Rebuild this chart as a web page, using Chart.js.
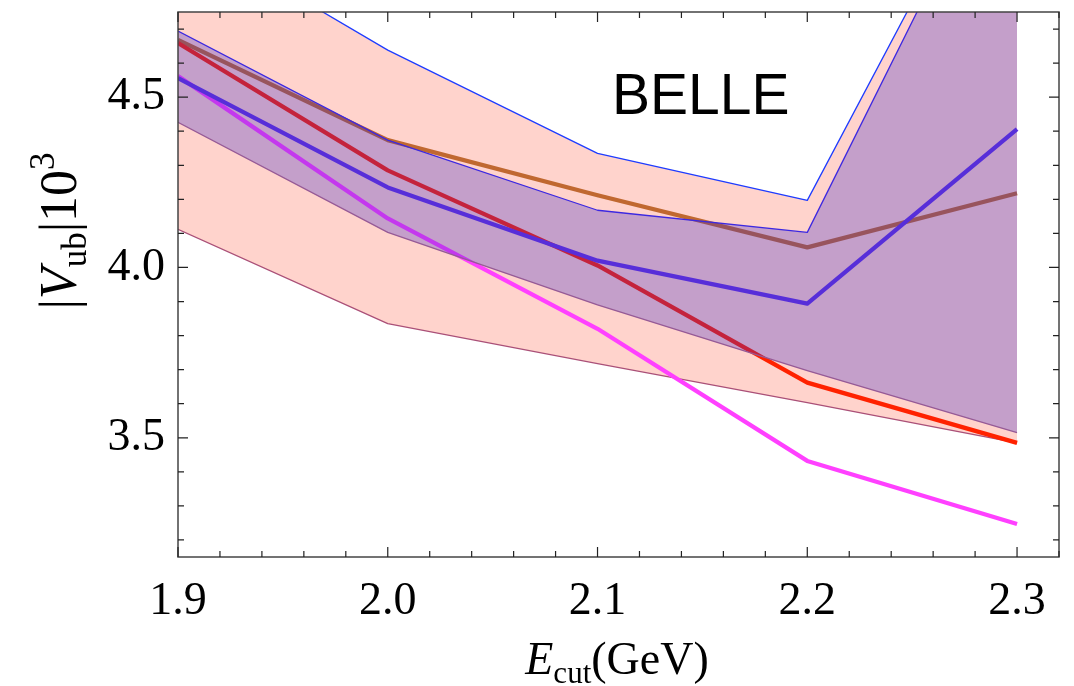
<!DOCTYPE html>
<html lang="en">
<head>
  <meta charset="UTF-8">
  <title>|Vub| vs Ecut - BELLE</title>
  <script src="https://cdn.jsdelivr.net/npm/chart.js"></script>
  <style>
    body { margin: 0; background: #fff; }
    #wrap { width: 1074px; height: 686px; }
  </style>
</head>
<body>
<div id="wrap">
  <canvas id="vubChart" width="1074" height="686"></canvas>
</div>

<script>
  // Energy cut values (GeV)
  const eCut = [1.9, 2.0, 2.1, 2.2, 2.3];

  // Bands: upper / lower edges, |Vub| x 10^3
  const pinkUpper = [5.00, 4.638, 4.335, 4.197, 5.36];
  const pinkLower = [4.112, 3.835, 3.718, 3.603, 3.485];
  const purpleUpper = [4.694, 4.374, 4.168, 4.103, 5.34];
  const purpleLower = [4.426, 4.103, 3.890, 3.697, 3.515];

  // Central curves
  const orangeLine = [4.668, 4.374, 4.212, 4.059, 4.218];
  const redLine = [4.659, 4.285, 4.006, 3.662, 3.485];
  const blueLine = [4.556, 4.235, 4.020, 3.894, 4.406];
  const magentaLine = [4.562, 4.144, 3.820, 3.432, 3.247];

  // Axis ticks
  const xTicks = [1.9, 2.0, 2.1, 2.2, 2.3];
  const yTicks = [3.5, 4.0, 4.5];

  const serif = '"Liberation Serif", "Times New Roman", serif';

  function pts(ys) {
    return eCut.map((x, i) => ({ x: x, y: ys[i] }));
  }

  // Frame with inward ticks on all four sides, plus the text labels
  const framePlugin = {
    id: 'frame',
    afterDraw(chart) {
      const ctx = chart.ctx;
      const a = chart.chartArea;
      const xs = chart.scales.x, ys = chart.scales.y;
      ctx.save();
      ctx.strokeStyle = '#444';
      ctx.lineWidth = 1.5;
      ctx.strokeRect(a.left, a.top, a.right - a.left, a.bottom - a.top);

      ctx.strokeStyle = '#222';
      ctx.lineWidth = 1.2;
      ctx.beginPath();
      // x ticks every 0.02, major every 0.1
      for (let i = 0; i <= 21; i++) {
        const v = 1.9 + i * 0.02;
        const px = xs.getPixelForValue(v);
        if (px > a.right) break;
        const len = i % 5 === 0 ? 10 : 6;
        ctx.moveTo(px, a.bottom); ctx.lineTo(px, a.bottom - len);
        ctx.moveTo(px, a.top); ctx.lineTo(px, a.top + len);
      }
      // y ticks every 0.1, major every 0.5
      for (let i = 32; i <= 47; i++) {
        const v = i / 10;
        const py = ys.getPixelForValue(v);
        const len = i % 5 === 0 ? 10 : 6;
        ctx.moveTo(a.left, py); ctx.lineTo(a.left + len, py);
        ctx.moveTo(a.right, py); ctx.lineTo(a.right - len, py);
      }
      ctx.stroke();

      // BELLE label
      ctx.fillStyle = '#000';
      ctx.font = '57px "Liberation Sans", Arial, sans-serif';
      ctx.textAlign = 'left';
      ctx.textBaseline = 'alphabetic';
      ctx.fillText('BELLE', 612, 114);

      // x axis title: E_cut(GeV)
      const big = 46, small = 31;
      ctx.font = 'italic ' + big + 'px ' + serif;
      const wE = ctx.measureText('E').width;
      ctx.font = small + 'px ' + serif;
      const wSub = ctx.measureText('cut').width;
      ctx.font = big + 'px ' + serif;
      const wRest = ctx.measureText('(GeV)').width;
      let x0 = 617 - (wE + wSub + wRest) / 2;
      const yb = 674;
      ctx.font = 'italic ' + big + 'px ' + serif;
      ctx.fillText('E', x0, yb); x0 += wE;
      ctx.font = small + 'px ' + serif;
      ctx.fillText('cut', x0, yb + 9); x0 += wSub;
      ctx.font = big + 'px ' + serif;
      ctx.fillText('(GeV)', x0, yb);

      // y axis title: |V_ub| 10^3, rotated
      const yb2 = 52, ys2 = 35;
      const parts = [
        { t: '|', f: yb2 + 'px ' + serif, dy: 0 },
        { t: 'V', f: 'italic ' + yb2 + 'px ' + serif, dy: 0 },
        { t: 'ub', f: ys2 + 'px ' + serif, dy: 10 },
        { t: '|10', f: yb2 + 'px ' + serif, dy: 0 },
        { t: '3', f: ys2 + 'px ' + serif, dy: -22 }
      ];
      let total = 0;
      parts.forEach(p => { ctx.font = p.f; p.w = ctx.measureText(p.t).width; total += p.w; });
      ctx.translate(76, 231);
      ctx.rotate(-Math.PI / 2);
      let px = -total / 2;
      parts.forEach(p => { ctx.font = p.f; ctx.fillText(p.t, px, p.dy); px += p.w; });
      ctx.restore();
    }
  };

  const thin = 1.3, thick = 4.3;

  new Chart(document.getElementById('vubChart'), {
    type: 'line',
    data: {
      datasets: [
        { data: pts(purpleLower), borderColor: 'rgb(150,90,150)', borderWidth: thin, fill: false, order: 0 },
        { data: pts(purpleUpper), borderColor: 'rgb(60,40,225)', borderWidth: thin,
          fill: '-1', backgroundColor: 'rgba(58,41,200,0.3)', order: 1 },
        { data: pts(blueLine), borderColor: 'rgb(100,50,225)', borderWidth: thick, fill: false, order: 2 },
        { data: pts(redLine), borderColor: 'rgb(255,34,0)', borderWidth: thick, fill: false, order: 3 },
        { data: pts(magentaLine), borderColor: 'rgb(255,64,255)', borderWidth: thick, fill: false, order: 4 },
        { data: pts(orangeLine), borderColor: 'rgb(192,104,48)', borderWidth: thick, fill: false, order: 5 },
        { data: pts(pinkLower), borderColor: 'rgb(170,80,120)', borderWidth: thin, fill: false, order: 6 },
        { data: pts(pinkUpper), borderColor: 'rgb(30,60,255)', borderWidth: thin,
          fill: '-1', backgroundColor: 'rgb(255,211,204)', order: 7 }
      ]
    },
    options: {
      responsive: false,
      animation: false,
      devicePixelRatio: 1,
      layout: { padding: { top: 12, right: 15, left: 0, bottom: 0 } },
      elements: {
        point: { radius: 0 },
        line: { tension: 0, borderJoinStyle: 'round' }
      },
      plugins: {
        legend: { display: false },
        tooltip: { enabled: false }
      },
      scales: {
        x: {
          type: 'linear',
          min: 1.9,
          max: 2.32,
          grid: { display: false, drawTicks: false },
          border: { display: false },
          afterBuildTicks: s => { s.ticks = xTicks.map(v => ({ value: v })); },
          afterFit: s => { s.height = 129; s.paddingLeft = 0; s.paddingRight = 0; },
          ticks: {
            padding: 17,
            color: '#000',
            maxRotation: 0,
            font: { family: serif, size: 46 },
            callback: v => v.toFixed(1)
          }
        },
        y: {
          type: 'linear',
          min: 3.15,
          max: 4.75,
          grid: { display: false, drawTicks: false },
          border: { display: false },
          afterBuildTicks: s => { s.ticks = yTicks.map(v => ({ value: v })); },
          afterFit: s => { s.width = 178; s.paddingTop = 0; s.paddingBottom = 0; },
          ticks: {
            padding: 13,
            color: '#000',
            font: { family: serif, size: 46 },
            callback: v => v.toFixed(1)
          }
        }
      }
    },
    plugins: [framePlugin]
  });
</script>
</body>
</html>
